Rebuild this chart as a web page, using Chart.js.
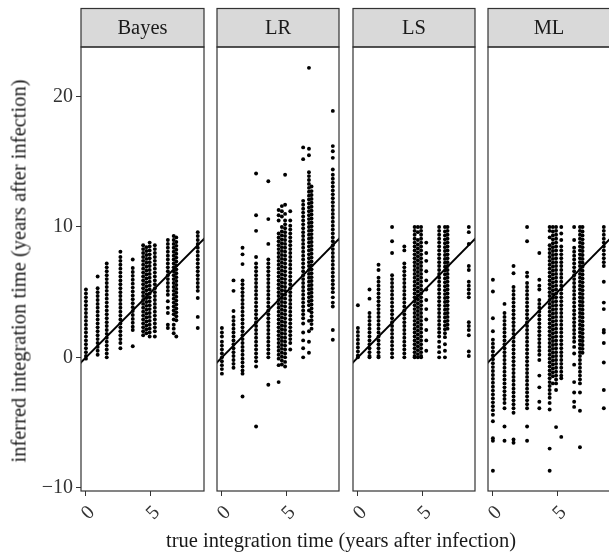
<!DOCTYPE html>
<html>
<head>
<meta charset="utf-8">
<script src="https://cdn.jsdelivr.net/npm/chart.js@4/dist/chart.umd.min.js"></script>
<style>
html, body { margin: 0; padding: 0; overflow: hidden; }
body { width: 609px; height: 555px; position: relative; background: #fff; font-family: 'Liberation Serif', serif; color: #1a1a1a; }
canvas { position: absolute; top: 0; }
.xtitle { position: absolute; left: 341px; top: 529px; transform: translateX(-50%); font-size: 20.5px; white-space: nowrap; }
.ytitle { position: absolute; left: 19px; top: 271px; transform: translate(-50%, -50%) rotate(-90deg); font-size: 20.5px; white-space: nowrap; }
</style>
</head>
<body>
<canvas id="bayes" width="205" height="555" style="left:0px"></canvas>
<canvas id="lr" width="124" height="555" style="left:216px"></canvas>
<canvas id="ls" width="124" height="555" style="left:352px"></canvas>
<canvas id="ml" width="124" height="555" style="left:487px"></canvas>
<div class="xtitle">true integration time (years after infection)</div>
<div class="ytitle">inferred integration time (years after infection)</div>
<script>
// true integration times (x) shared by all methods, one column of points each
const trueTimes = [0, 0.9, 1.6, 2.65, 3.6, 4.4, 4.65, 4.9, 5.3, 6.3, 6.75, 6.95, 8.6];

const methods = ['Bayes', 'LR', 'LS', 'ML'];

// inferred times per method, one list per true time
const bayesTimes = [
  [5.2, 4.9, 4.6, 4.3, 4.0, 3.7, 3.4, 3.1, 2.8, 2.5, 2.2, 1.9, 1.6, 1.3, 1.0, 0.7, 0.4, 0.1, -0.1],
  [6.2, 5.3, 5.0, 4.7, 4.4, 4.1, 3.8, 3.5, 3.2, 2.9, 2.6, 2.3, 2.0, 1.7, 1.4, 1.1, 0.8, 0.5, 0.2],
  [7.2, 6.9, 6.6, 6.3, 6.0, 5.7, 5.4, 5.1, 4.8, 4.5, 4.2, 3.9, 3.6, 3.3, 3.0, 2.7, 2.4, 2.1, 1.8, 1.5, 1.2, 0.9, 0.6, 0.3, 0.0],
  [8.1, 7.7, 7.4, 7.1, 6.8, 6.5, 6.2, 5.9, 5.6, 5.3, 5.0, 4.7, 4.4, 4.1, 3.8, 3.5, 3.2, 2.9, 2.6, 2.3, 2.0, 1.7, 1.4, 1.1, 0.7],
  [7.5, 6.85, 6.55, 6.25, 5.95, 5.65, 5.35, 5.05, 4.75, 4.45, 4.15, 3.85, 3.55, 3.25, 2.95, 2.65, 2.35, 2.1, 0.85],
  [8.6, 8.3, 8.0, 7.7, 7.4, 7.1, 6.8, 6.5, 6.2, 5.9, 5.6, 5.3, 5.0, 4.7, 4.4, 4.1, 3.8, 3.5, 3.2, 2.9, 2.6, 2.3, 2.0, 1.7],
  [8.45, 8.15, 7.85, 7.55, 7.25, 6.95, 6.65, 6.35, 6.05, 5.75, 5.45, 5.15, 4.85, 4.55, 4.25, 3.95, 3.65, 3.35, 3.05, 2.75, 2.45, 2.15, 1.85],
  [8.8, 8.5, 8.2, 7.9, 7.6, 7.3, 7.0, 6.7, 6.4, 6.1, 5.8, 5.5, 5.2, 4.9, 4.6, 4.3, 4.0, 3.7, 3.4, 3.1, 2.8, 2.5, 2.2, 1.9, 1.6],
  [8.6, 8.3, 8.0, 7.7, 7.4, 7.1, 6.8, 6.5, 6.2, 5.9, 5.6, 5.3, 5.0, 4.7, 4.4, 4.1, 3.8, 3.5, 3.2, 2.9, 2.6, 2.3, 2.0, 1.6],
  [9.0, 8.7, 8.4, 8.1, 7.8, 7.5, 7.2, 6.9, 6.6, 6.3, 6.0, 5.7, 5.4, 5.1, 4.8, 4.3, 3.8, 3.4, 2.5, 2.25],
  [9.3, 9.0, 8.7, 8.4, 8.1, 7.8, 7.5, 7.2, 6.9, 6.6, 6.3, 6.0, 5.7, 5.4, 5.1, 4.8, 4.5, 4.2, 3.9, 3.6, 3.3, 2.9, 2.5, 2.2, 1.85],
  [9.2, 8.85, 8.55, 8.25, 7.95, 7.65, 7.35, 7.05, 6.75, 6.45, 6.15, 5.85, 5.55, 5.25, 4.95, 4.65, 4.35, 4.05, 3.75, 3.45, 3.15, 2.85, 1.6],
  [9.6, 9.3, 9.0, 8.7, 8.4, 8.1, 7.8, 7.5, 7.2, 6.9, 6.6, 6.3, 6.0, 5.7, 5.4, 5.1, 4.55, 3.1, 2.25]
];

const lrTimes = [
  [2.25, 1.9, 1.6, 1.2, 0.9, 0.6, 0.3, 0.0, -0.3, -0.6, -0.9, -1.25],
  [5.9, 5.1, 3.55, 3.1, 2.8, 2.5, 2.2, 1.9, 1.6, 1.3, 1.0, 0.7, 0.4, 0.1, -0.2, -0.5, -0.8],
  [8.4, 7.9, 7.15, 5.9, 5.6, 5.3, 5.0, 4.7, 4.4, 4.1, 3.8, 3.5, 3.2, 2.9, 2.6, 2.3, 2.0, 1.7, 1.4, 1.1, 0.8, 0.5, 0.2, -0.1, -0.4, -0.7, -1.0, -1.25, -3.0],
  [14.1, 10.9, 9.7, 7.7, 7.2, 6.9, 6.6, 6.3, 6.0, 5.7, 5.4, 5.1, 4.8, 4.5, 4.2, 3.9, 3.6, 3.3, 3.0, 2.7, 2.4, 2.1, 1.8, 1.5, 1.2, 0.9, 0.6, 0.3, 0.0, -0.3, -0.7, -5.3],
  [13.5, 10.6, 8.7, 7.5, 7.2, 6.9, 6.6, 6.3, 6.0, 5.7, 5.4, 5.1, 4.8, 4.5, 4.2, 3.9, 3.6, 3.3, 3.0, 2.7, 2.4, 2.1, 1.8, 1.5, 1.2, 0.9, 0.6, 0.3, 0.0, -2.1],
  [11.3, 10.9, 10.5, 9.5, 9.2, 8.9, 8.6, 8.3, 8.0, 7.7, 7.4, 7.1, 6.8, 6.5, 6.2, 5.9, 5.6, 5.3, 5.0, 4.7, 4.4, 4.1, 3.8, 3.5, 3.2, 2.9, 2.6, 2.3, 2.0, 1.7, 1.4, 1.1, 0.8, 0.5, 0.2, -0.1, -0.6, -1.9],
  [11.6, 11.2, 10.8, 10.0, 9.65, 9.35, 9.05, 8.75, 8.45, 8.15, 7.85, 7.55, 7.25, 6.95, 6.65, 6.35, 6.05, 5.75, 5.45, 5.15, 4.85, 4.55, 4.25, 3.95, 3.65, 3.35, 3.05, 2.75, 2.45, 2.15, 1.85, 1.55, 1.25, 0.95, 0.65, 0.35, 0.05, -0.25, -0.55],
  [14.0, 11.7, 11.0, 10.5, 10.2, 9.9, 9.6, 9.3, 9.0, 8.7, 8.4, 8.1, 7.8, 7.5, 7.2, 6.9, 6.6, 6.3, 6.0, 5.7, 5.4, 5.1, 4.8, 4.5, 4.2, 3.9, 3.6, 3.3, 3.0, 2.7, 2.4, 2.1, 1.8, 1.5, 1.2, 0.9, 0.6, 0.3, 0.0, -0.35, -0.7],
  [11.2, 10.5, 10.1, 9.8, 9.5, 9.2, 8.9, 8.6, 8.3, 8.0, 7.7, 7.4, 7.1, 6.8, 6.5, 6.2, 5.9, 5.6, 5.3, 5.0, 4.7, 4.4, 4.1, 3.8, 3.5, 3.2, 2.9, 2.6, 2.3, 2.0, 1.7, 1.4, 1.1, 0.6],
  [16.1, 15.2, 12.0, 11.7, 11.4, 11.1, 10.8, 10.5, 10.2, 9.9, 9.6, 9.3, 9.0, 8.7, 8.4, 8.1, 7.8, 7.5, 7.2, 6.9, 6.6, 6.3, 6.0, 5.7, 5.4, 5.1, 4.8, 4.5, 4.2, 3.9, 3.6, 3.3, 3.0, 2.6, 1.9, 1.3, 0.7, 0.0],
  [22.2, 16.0, 15.5, 14.2, 13.9, 13.6, 13.3, 13.0, 12.7, 12.4, 12.1, 11.8, 11.5, 11.2, 10.9, 10.6, 10.3, 10.0, 9.7, 9.4, 9.1, 8.8, 8.5, 8.2, 7.9, 7.6, 7.3, 7.0, 6.7, 6.4, 6.1, 5.8, 5.5, 5.2, 4.9, 4.6, 4.3, 4.0, 3.6, 2.8, 2.0, 1.2, 0.35],
  [13.1, 12.75, 12.45, 12.15, 11.85, 11.55, 11.25, 10.95, 10.65, 10.35, 10.05, 9.75, 9.45, 9.15, 8.85, 8.55, 8.25, 7.95, 7.65, 7.35, 7.05, 6.75, 6.45, 6.15, 5.85, 5.55, 5.25, 4.95, 4.65, 4.35, 4.05, 3.75, 3.45, 3.15, 2.85, 2.55, 2.2],
  [18.9, 16.2, 15.8, 15.3, 14.4, 14.0, 13.7, 13.4, 13.1, 12.8, 12.5, 12.2, 11.9, 11.6, 11.3, 11.0, 10.7, 10.4, 10.1, 9.8, 9.5, 9.2, 8.9, 8.6, 8.3, 8.0, 7.7, 7.4, 7.1, 6.8, 6.5, 6.2, 5.9, 5.6, 5.3, 5.0, 4.6, 4.2, 3.9, 2.1, 1.35]
];

const lsTimes = [
  [4.0, 2.25, 1.95, 1.65, 1.35, 1.05, 0.75, 0.45, 0.15, 0.0],
  [5.2, 4.5, 3.4, 3.1, 2.8, 2.5, 2.2, 1.9, 1.6, 1.3, 1.0, 0.7, 0.4, 0.1, 0.0],
  [7.1, 6.7, 6.1, 5.8, 5.5, 5.2, 4.9, 4.6, 4.3, 4.0, 3.7, 3.4, 3.1, 2.8, 2.5, 2.2, 1.9, 1.6, 1.3, 1.0, 0.7, 0.4, 0.1, 0.0],
  [10.0, 8.9, 8.0, 6.3, 6.0, 5.7, 5.4, 5.1, 4.8, 4.5, 4.2, 3.9, 3.6, 3.3, 3.0, 2.7, 2.4, 2.1, 1.8, 1.5, 1.2, 0.9, 0.6, 0.3, 0.0],
  [8.5, 8.2, 7.2, 6.9, 6.6, 6.3, 6.0, 5.7, 5.4, 5.1, 4.8, 4.5, 4.2, 3.9, 3.6, 3.3, 3.0, 2.7, 2.4, 2.1, 1.8, 1.5, 1.2, 0.9, 0.6, 0.3, 0.0],
  [10.0, 9.7, 9.4, 9.1, 8.8, 8.5, 8.2, 7.9, 7.6, 7.3, 7.0, 6.7, 6.4, 6.1, 5.8, 5.5, 5.2, 4.9, 4.6, 4.3, 4.0, 3.7, 3.4, 3.1, 2.8, 2.5, 2.2, 1.9, 1.6, 1.3, 1.0, 0.7, 0.4, 0.1, 0.0],
  [10.0, 9.6, 9.0, 8.65, 8.35, 8.05, 7.75, 7.45, 7.15, 6.85, 6.55, 6.25, 5.95, 5.65, 5.35, 5.05, 4.75, 4.45, 4.15, 3.85, 3.55, 3.25, 2.95, 2.65, 2.35, 2.05, 1.75, 1.45, 1.15, 0.85, 0.55, 0.25, 0.0],
  [10.0, 9.7, 9.4, 9.1, 8.8, 8.5, 8.2, 7.9, 7.6, 7.3, 7.0, 6.7, 6.4, 6.1, 5.8, 5.5, 5.2, 4.9, 4.6, 4.3, 4.0, 3.7, 3.4, 3.1, 2.8, 2.5, 2.2, 1.9, 1.6, 1.3, 1.0, 0.7, 0.4, 0.1, 0.0],
  [8.8, 8.0, 7.4, 6.6, 5.9, 5.2, 4.4, 3.7, 2.9, 2.1, 1.3, 0.5],
  [10.0, 9.7, 9.4, 9.1, 8.8, 8.5, 8.2, 7.9, 7.6, 7.3, 7.0, 6.7, 6.4, 6.1, 5.8, 5.5, 5.2, 4.9, 4.6, 4.3, 4.0, 3.7, 3.4, 3.1, 2.8, 2.5, 2.2, 1.9, 1.6, 1.2, 0.8, 0.4, 0.0],
  [10.0, 9.65, 9.35, 9.05, 8.75, 8.45, 8.15, 7.85, 7.55, 7.25, 6.95, 6.65, 6.35, 6.05, 5.75, 5.45, 5.15, 4.85, 4.55, 4.25, 3.95, 3.65, 3.35, 3.05, 2.75, 2.45, 2.15, 1.85, 1.55, 1.0, 0.5, 0.0],
  [10.0, 9.7, 9.4, 9.1, 8.8, 8.5, 8.2, 7.9, 7.6, 7.3, 7.0, 6.7, 6.4, 6.1, 5.8, 5.5, 5.2, 4.9, 4.6, 4.3, 4.0, 3.7, 3.4, 3.1, 2.8, 2.5, 2.2],
  [10.0, 9.6, 8.7, 7.0, 6.7, 5.8, 5.5, 5.2, 4.9, 4.6, 2.7, 2.4, 2.1, 1.7, 0.45, 0.1]
];

const mlTimes = [
  [5.95, 5.05, 3.0, 2.0, 1.35, 1.05, 0.75, 0.45, 0.15, -0.15, -0.45, -0.75, -1.05, -1.35, -1.65, -1.95, -2.25, -2.55, -2.85, -3.15, -3.45, -3.75, -4.05, -4.4, -4.9, -6.2, -6.4, -8.7],
  [4.1, 3.4, 3.1, 2.8, 2.5, 2.2, 1.9, 1.6, 1.3, 1.0, 0.7, 0.4, 0.1, -0.2, -0.5, -0.8, -1.1, -1.4, -1.7, -2.0, -2.3, -2.6, -2.9, -3.2, -3.5, -3.9, -5.3, -6.4],
  [7.0, 6.45, 5.4, 5.1, 4.8, 4.5, 4.2, 3.9, 3.6, 3.3, 3.0, 2.7, 2.4, 2.1, 1.8, 1.5, 1.2, 0.9, 0.6, 0.3, 0.0, -0.3, -0.6, -0.9, -1.2, -1.5, -1.8, -2.1, -2.4, -2.7, -3.0, -3.3, -3.6, -3.9, -4.25, -6.3, -6.55],
  [10.0, 8.9, 6.5, 6.2, 5.7, 5.4, 5.1, 4.8, 4.5, 4.2, 3.9, 3.6, 3.3, 3.0, 2.7, 2.4, 2.1, 1.8, 1.5, 1.2, 0.9, 0.6, 0.3, 0.0, -0.3, -0.6, -0.9, -1.2, -1.5, -1.8, -2.1, -2.4, -2.7, -3.0, -3.3, -3.6, -3.9, -5.3, -6.4],
  [8.0, 5.95, 5.5, 5.2, 4.4, 4.1, 3.8, 3.5, 3.2, 2.9, 2.6, 2.3, 2.0, 1.7, 1.4, 1.1, 0.8, 0.5, 0.2, -0.2, -1.4, -2.3, -3.4, -3.9],
  [10.0, 9.7, 9.2, 8.6, 8.3, 8.0, 7.7, 7.4, 7.1, 6.8, 6.5, 6.2, 5.9, 5.6, 5.3, 5.0, 4.7, 4.4, 4.1, 3.8, 3.5, 3.2, 2.9, 2.6, 2.3, 2.0, 1.7, 1.4, 1.1, 0.8, 0.5, 0.2, -0.1, -0.4, -0.7, -1.0, -1.3, -1.6, -1.9, -2.2, -2.5, -2.8, -3.1, -3.5, -4.0, -7.0, -8.7],
  [10.0, 9.65, 9.35, 9.05, 8.75, 8.45, 8.15, 7.85, 7.55, 7.25, 6.95, 6.65, 6.35, 6.05, 5.75, 5.45, 5.15, 4.85, 4.55, 4.25, 3.95, 3.65, 3.35, 3.05, 2.75, 2.45, 2.15, 1.85, 1.55, 1.25, 0.95, 0.65, 0.35, 0.05, -0.25, -0.55, -0.85, -1.15, -1.45, -2.0],
  [10.0, 9.7, 9.4, 9.1, 8.8, 8.5, 8.2, 7.9, 7.6, 7.3, 7.0, 6.7, 6.4, 6.1, 5.8, 5.5, 5.2, 4.9, 4.6, 4.3, 4.0, 3.7, 3.4, 3.1, 2.8, 2.5, 2.2, 1.9, 1.6, 1.3, 1.0, 0.7, 0.4, 0.1, -0.2, -0.5, -0.8, -1.1, -1.4, -1.7, -2.0, -2.5, -5.35],
  [10.0, 9.5, 9.0, 8.5, 8.2, 7.9, 7.6, 7.3, 7.0, 6.7, 6.4, 6.1, 5.8, 5.5, 5.2, 4.9, 4.6, 4.3, 4.0, 3.7, 3.4, 3.1, 2.8, 2.5, 2.2, 1.9, 1.6, 1.3, 1.0, 0.7, 0.4, 0.1, -0.2, -0.5, -0.8, -1.1, -1.4, -1.6, -6.1],
  [10.0, 9.0, 8.4, 8.1, 7.8, 7.5, 7.2, 6.9, 6.6, 6.3, 6.0, 5.7, 5.4, 5.1, 4.8, 4.5, 4.2, 3.9, 3.6, 3.3, 3.0, 2.7, 2.4, 2.1, 1.8, 1.5, 1.2, 0.8, 0.3, -0.56, -1.9, -2.7, -3.4, -3.8],
  [10.0, 9.7, 9.4, 9.1, 8.8, 8.5, 8.2, 7.9, 7.6, 7.3, 7.0, 6.7, 6.4, 6.1, 5.8, 5.5, 5.2, 4.9, 4.6, 4.3, 4.0, 3.7, 3.4, 3.1, 2.8, 2.5, 2.2, 1.9, 1.6, 1.3, 1.0, 0.7, 0.4, 0.1, -0.2, -0.5, -0.8, -1.1, -1.4, -1.7, -2.0, -2.7, -4.1, -6.9],
  [10.0, 9.65, 9.35, 9.05, 8.75, 8.45, 8.15, 7.85, 7.55, 7.25, 6.95, 6.65, 6.35, 6.05, 5.75, 5.45, 5.15, 4.85, 4.55, 4.25, 3.95, 3.65, 3.35, 3.05, 2.75, 2.45, 2.15, 1.85, 1.55, 1.25, 0.95, 0.65, 0.35],
  [10.0, 9.7, 9.4, 9.1, 8.8, 8.5, 8.2, 7.9, 7.6, 7.3, 7.0, 5.8, 4.2, 3.7, 2.1, 1.9, 1.1, -0.4, -2.5, -3.9]
];

// y = x reference line ends
const identityLine = [-1, 10];

const xTicks = [0, 5];
const yTicks = [-10, 0, 10, 20];

const X_MIN = -0.38, X_MAX = 9.08;
const Y_MIN = -10.25, Y_MAX = 23.8;
const STRIP_TOP = 8.5;
const AXIS_COLOR = '#333333';

Chart.defaults.font.family = "'Liberation Serif', serif";
Chart.defaults.color = AXIS_COLOR;

// grey facet strip and panel frame, ggplot style
const stripPlugin = {
    id: 'strip',
    afterDraw(chart, args, opts) {
        const ctx = chart.ctx;
        const a = chart.chartArea;
        const w = a.right - a.left;
        ctx.save();
        ctx.fillStyle = '#d9d9d9';
        ctx.fillRect(a.left, STRIP_TOP, w, a.top - STRIP_TOP);
        ctx.strokeStyle = AXIS_COLOR;
        ctx.lineWidth = 1.2;
        ctx.strokeRect(a.left, STRIP_TOP, w, a.top - STRIP_TOP);
        ctx.strokeRect(a.left, a.top, w, a.bottom - a.top);
        ctx.fillStyle = '#1a1a1a';
        ctx.font = "20.5px 'Liberation Serif'";
        ctx.textAlign = 'center';
        ctx.textBaseline = 'middle';
        ctx.fillText(opts.label, a.left + w / 2, (STRIP_TOP + a.top) / 2 + 1);
        ctx.restore();
    }
};

function makePanel(id, label, values, showY) {
    let points = [];
    values.forEach((col, j) => {
        col.forEach(v => points.push({ x: trueTimes[j], y: v }));
    });

    return new Chart(document.getElementById(id), {
        type: 'scatter',
        data: {
            datasets: [{
                data: points,
                pointRadius: 1.95,
                pointHoverRadius: 1.95,
                backgroundColor: '#000',
                borderWidth: 0
            }, {
                type: 'line',
                data: identityLine.map(v => ({ x: v, y: v })),
                borderColor: '#000',
                borderWidth: 2,
                pointRadius: 0,
                clip: 0
            }]
        },
        options: {
            responsive: false,
            animation: false,
            events: [],
            layout: {
                autoPadding: false,
                padding: { left: showY ? 0 : 1, right: 1, top: 47, bottom: 0 }
            },
            plugins: {
                legend: { display: false },
                tooltip: { enabled: false },
                strip: { label: label }
            },
            scales: {
                x: {
                    type: 'linear',
                    min: X_MIN,
                    max: X_MAX,
                    // fixed axis height, and no extra room for the rotated labels
                    afterFit: s => {
                        s.height = 64;
                        s.paddingLeft = 0;
                        s.paddingRight = 0;
                    },
                    afterBuildTicks: s => { s.ticks = xTicks.map(v => ({ value: v })); },
                    ticks: {
                        minRotation: 45,
                        maxRotation: 45,
                        padding: 5,
                        labelOffset: 6,
                        color: AXIS_COLOR,
                        font: { size: 20 }
                    },
                    grid: { drawOnChartArea: false, drawTicks: true, tickLength: 5, color: AXIS_COLOR },
                    border: { display: false }
                },
                y: {
                    display: showY,
                    min: Y_MIN,
                    max: Y_MAX,
                    afterFit: s => { s.width = showY ? 81 : 0; },
                    afterBuildTicks: s => { s.ticks = yTicks.map(v => ({ value: v })); },
                    ticks: {
                        padding: 3,
                        color: AXIS_COLOR,
                        font: { size: 20 },
                        callback: v => v < 0 ? '\u2212' + Math.abs(v) : String(v)
                    },
                    grid: { drawOnChartArea: false, drawTicks: true, tickLength: 5, color: AXIS_COLOR },
                    border: { display: false }
                }
            }
        },
        plugins: [stripPlugin]
    });
}

makePanel('bayes', methods[0], bayesTimes, true);
makePanel('lr', methods[1], lrTimes, false);
makePanel('ls', methods[2], lsTimes, false);
makePanel('ml', methods[3], mlTimes, false);
</script>
</body>
</html>
